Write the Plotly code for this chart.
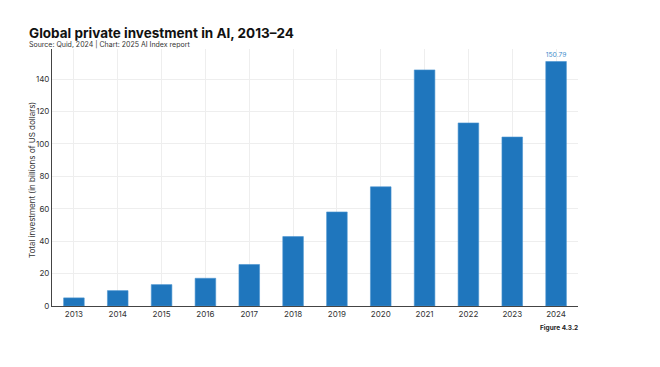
import plotly.graph_objects as go

years = ["2013", "2014", "2015", "2016", "2017", "2018", "2019", "2020", "2021", "2022", "2023", "2024"]
investment = [5.0, 9.5, 13.2, 17.1, 25.6, 42.8, 58.0, 73.5, 145.6, 112.9, 104.2, 150.79]
y_ticks = [0, 20, 40, 60, 80, 100, 120, 140]

labels = ["" for _ in investment]
labels[-1] = f"{investment[-1]:.2f}"

fig = go.Figure()
fig.add_trace(go.Bar(
    x=years, y=investment, width=0.47,
    marker=dict(color="#1f76bd", line=dict(color="#4a93d0", width=0.6)),
    text=labels, textposition="outside",
    textfont=dict(size=8, color="#3d8ccc", family="Inter"),
    cliponaxis=False,
))

fig.update_layout(
    width=660, height=367,
    margin=dict(l=44, r=90, t=41, b=69),
    paper_bgcolor="white", plot_bgcolor="white",
    font=dict(family="Inter", color="#333333", size=8),
    showlegend=False,
)
fig.update_xaxes(
    automargin=False,
    showline=True, linecolor="#444444", linewidth=1,
    showgrid=True, gridcolor="#eeeeee", gridwidth=1,
    ticks="", tickfont=dict(size=8, color="#333333"),
)
fig.update_yaxes(
    automargin=False,
    range=[0, 158.5], tickvals=y_ticks,
    showline=True, linecolor="#444444", linewidth=1,
    showgrid=True, gridcolor="#eeeeee", gridwidth=1,
    zeroline=False, ticks="", tickfont=dict(size=8, color="#333333"),
)

fig.add_annotation(text="Total investment (in billions of US dollars)", textangle=-90,
                   xref="paper", yref="paper", x=-0.038, y=0.49, xanchor="center", yanchor="middle",
                   showarrow=False, font=dict(size=8, color="#333333", family="Inter"))
fig.add_annotation(text="<b>Global private investment in AI, 2013–24</b>",
                   xref="paper", yref="paper", x=-0.048, y=1.0, xanchor="left", yanchor="middle",
                   yshift=16, showarrow=False, font=dict(size=13.5, color="#111111", family="Inter"))
fig.add_annotation(text="Source: Quid, 2024 | Chart: 2025 AI Index report",
                   xref="paper", yref="paper", x=-0.048, y=1.0, xanchor="left", yanchor="middle",
                   yshift=5, showarrow=False, font=dict(size=7, color="#333333", family="Inter"))
fig.add_annotation(text="<b>Figure 4.3.2</b>",
                   xref="paper", yref="paper", x=1.004, y=0, xanchor="right", yanchor="middle",
                   yshift=-22, showarrow=False, font=dict(size=6.5, color="#222222", family="Inter"))

fig.write_html("out.html")
